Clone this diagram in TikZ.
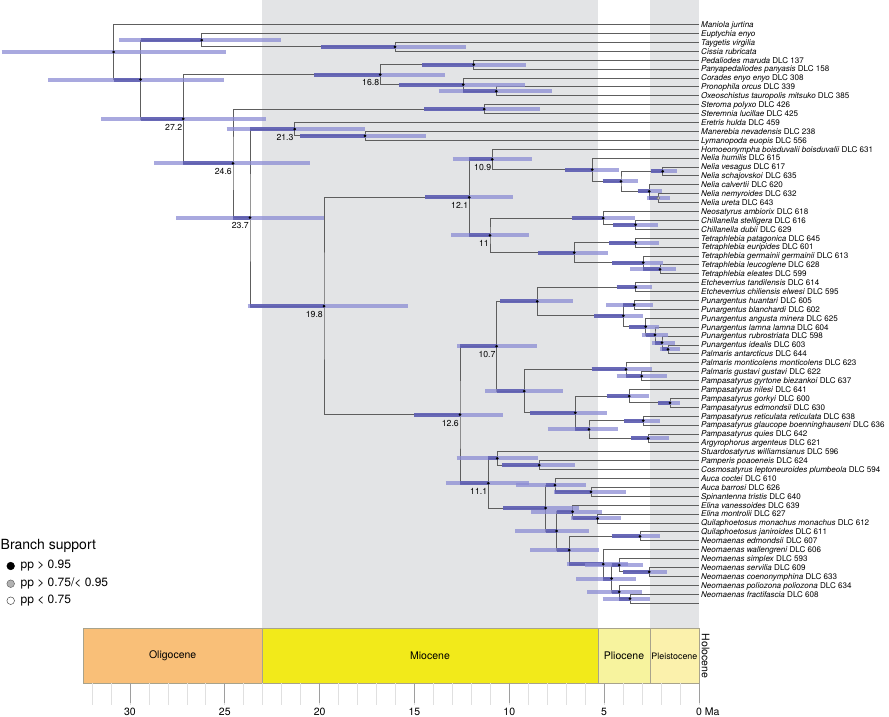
\documentclass[tikz,border=0pt]{standalone}
\usepackage{fontspec}
\setmainfont{TeX Gyre Heros}
\usetikzlibrary{calc}
\definecolor{band}{HTML}{E3E4E6}
\definecolor{oligo}{HTML}{F9BF78}
\definecolor{mio}{HTML}{F2EA1A}
\definecolor{plio}{HTML}{F7F39E}
\definecolor{pleis}{HTML}{FBF1AC}
\definecolor{holo}{HTML}{FDF4D8}
\definecolor{geoedge}{HTML}{A8A38C}
\definecolor{branchc}{HTML}{5E5E5E}
\definecolor{hpdD}{HTML}{5A5AAE}
\definecolor{hpdR}{HTML}{8C8CD4}
\tikzset{
  brline/.style={draw=branchc, line width=0.75pt},
  hpdlight/.style={draw=hpdR, line width=4pt, opacity=0.75},
  hpddark/.style={draw=hpdD, line width=4pt, opacity=0.8},
  agel/.style={inner sep=0pt, anchor=north east, font=\fontsize{8.7}{9}\selectfont},
  tiplab/.style={inner sep=0pt, anchor=base west, font=\fontsize{8.05}{9}\selectfont},
  geolab/.style={inner sep=0pt, font=\fontsize{10.5}{11}\selectfont},
  ticklab/.style={inner sep=0pt, anchor=base, font=\fontsize{10.5}{11}\selectfont},
  legtxt/.style={inner sep=0pt, anchor=west, font=\fontsize{12}{13}\selectfont},
}
\newcommand\trn[4]{\coordinate (#1m) at ($(#3)!0.5!(#4)$);\coordinate (#1) at (#2,0 |- #1m);\draw[brline] (#3) -| (#1) |- (#4);%
  \expandafter\gdef\csname px#3\endcsname{#2}\expandafter\gdef\csname px#4\endcsname{#2}}
\newcommand\hpdbar[3]{\draw[hpdlight] (#2,0 |- #1) -- (#3,0 |- #1);%
  \pgfmathsetmacro\dl{max(#2,\csname px#1\endcsname)}\draw[hpddark] (\dl,0 |- #1) -- (#1);}
\newcommand\tl[2]{\node[tiplab] (t#1) at ($(L#1)+(2,2.9)$) {#2};}
\newcommand\agl[2]{\node[agel] (a#1) at ($(#1)+(-1,5)$) {#2};}
\begin{document}
\begin{tikzpicture}[x=1pt,y=-1pt]
\useasboundingbox (0,0) rectangle (889,716);
% epoch bands
\fill[band] (262.1,0) rectangle (597.8,628.5);
\fill[band] (650,0) rectangle (698.8,628.5);
% geological scale
\draw[geoedge, fill=oligo] (83.3,628.5) rectangle (262.1,683.3);
\draw[geoedge, fill=mio] (262.1,628.5) rectangle (597.8,683.3);
\draw[geoedge, fill=plio] (597.8,628.5) rectangle (650,683.3);
\draw[geoedge, fill=pleis] (650,628.5) rectangle (698.8,683.3);
\draw[geoedge, fill=holo] (698.8,628.5) rectangle (699.3,683.3);
\node[geolab] (eo) at (172.7,655.9) {Oligocene};
\node[geolab] (em) at (430,655.9) {Miocene};
\node[geolab] (ep) at (624,655.9) {Pliocene};
\node[inner sep=0pt, font=\fontsize{8.9}{9}\selectfont] (es) at (674.4,655.9) {Pleistocene};
\node[geolab, rotate=-90] (eh) at (705.5,655.9) {Holocene};
\foreach \t in {0,...,32} \draw[black!12, line width=0.6pt] ({699-18.97*\t},683.3) -- ++(0,22);
\foreach \t in {0,5,...,30} \draw[black!38, line width=0.8pt] ({699-18.97*\t},683.3) -- ++(0,20);
\foreach \t in {5,10,...,30} \node[ticklab] at ({699-18.97*\t},715.5) {\t};
\node[ticklab, anchor=base west] (zma) at (696,715.5) {0 Ma};
% legend
\node[inner sep=0pt, anchor=west, font=\fontsize{14}{15}\selectfont] (lg) at (0.5,546) {Branch support};
\draw[black, fill=black, line width=0.5pt] (10.7,566) circle (3.8);
\draw[black!60, fill=black!30, line width=0.5pt] (10.7,583.7) circle (3.8);
\draw[black!70, fill=white, line width=0.5pt] (10.7,600.7) circle (3.8);
\node[legtxt] (l1) at (20.5,566) {pp > 0.95};
\node[legtxt] (l2) at (20.5,583.7) {pp > 0.75/< 0.95};
\node[legtxt] (l3) at (20.5,600.7) {pp < 0.75};
% leaves
\foreach \i in {1,...,66} {\coordinate (L\i) at (699,{24.5+(\i-1)*8.9});}
% tree
\trn{B2}{395}{L3}{L4}
\trn{B}{201.7}{L2}{B2}
\trn{D1}{473.7}{L5}{L6}
\trn{D3}{496.3}{L8}{L9}
\trn{D2}{463.3}{L7}{D3}
\trn{D}{380.3}{D1}{D2}
\trn{G}{484.3}{L10}{L11}
\trn{J}{365}{L13}{L14}
\trn{H}{294.7}{L12}{J}
\trn{Na}{662.7}{L17}{L18}
\trn{Nb}{658.3}{L20}{L21}
\trn{Nc}{649.3}{L19}{Nb}
\trn{Nd}{621}{Na}{Nc}
\trn{K}{592.3}{L16}{Nd}
\trn{N109}{492.3}{L15}{K}
\trn{Ch}{635.7}{L23}{L24}
\trn{Ne}{603.3}{L22}{Ch}
\trn{Ta}{635.7}{L25}{L26}
\trn{Tb}{660}{L28}{L29}
\trn{Tc}{643.3}{L27}{Tb}
\trn{Td}{574.3}{Ta}{Tc}
\trn{N11}{490}{Ne}{Td}
\trn{N121}{469.3}{N109}{N11}
\trn{Et}{635.7}{L30}{L31}
\trn{Pa}{634.3}{L32}{L33}
\trn{Pe}{668}{L37}{L38}
\trn{Pd}{662}{L36}{Pe}
\trn{Pc}{655}{L35}{Pd}
\trn{Pb}{645.7}{L34}{Pc}
\trn{Pun}{623.3}{Pa}{Pb}
\trn{P}{537.3}{Et}{Pun}
\trn{Ma}{641.7}{L40}{L41}
\trn{Mb}{626}{L39}{Ma}
\trn{Qa}{670}{L43}{L44}
\trn{Qb}{629.3}{L42}{Qa}
\trn{Qc}{643.3}{L45}{L46}
\trn{Qd}{648.3}{L47}{L48}
\trn{Qe}{589}{Qc}{Qd}
\trn{Qf}{575.3}{Qb}{Qe}
\trn{Mc}{524.3}{Mb}{Qf}
\trn{N107}{496.7}{P}{Mc}
\trn{Sa}{539.3}{L50}{L51}
\trn{Sb}{497.3}{L49}{Sa}
\trn{Ua}{591}{L53}{L54}
\trn{Ub}{555}{L52}{Ua}
\trn{Va}{597.7}{L56}{L57}
\trn{Vb}{572.7}{L55}{Va}
\trn{Wa}{640}{L58}{L59}
\trn{Wb}{649.3}{L62}{L63}
\trn{Wc}{619.3}{L61}{Wb}
\trn{Wd}{630}{L65}{L66}
\trn{We}{619.3}{L64}{Wd}
\trn{Wf}{611.7}{Wc}{We}
\trn{Wg}{603.3}{L60}{Wf}
\trn{Wh}{569.3}{Wa}{Wg}
\trn{Wi}{556.7}{Vb}{Wh}
\trn{Wj}{545.7}{Ub}{Wi}
\trn{N111}{488.3}{Sb}{Wj}
\trn{N126}{460}{N107}{N111}
\trn{I}{324}{N121}{N126}
\trn{F}{250}{H}{I}
\trn{E}{233}{G}{F}
\trn{C}{183.3}{D}{E}
\trn{A}{140.7}{B}{C}
\trn{R}{113.7}{L1}{A}
\expandafter\gdef\csname pxR\endcsname{113.7}
% HPD bars
\hpdbar{R}{1.7}{225.7}
\hpdbar{A}{48}{224}
\hpdbar{B}{119}{281}
\hpdbar{B2}{321}{465.7}
\hpdbar{C}{101}{265.7}
\hpdbar{D}{314}{445}
\hpdbar{D1}{422}{525.7}
\hpdbar{D2}{399}{525}
\hpdbar{D3}{438.7}{552}
\hpdbar{E}{154.3}{309.7}
\hpdbar{G}{424.3}{539.7}
\hpdbar{F}{176}{324.3}
\hpdbar{H}{226.7}{365}
\hpdbar{J}{300}{426.3}
\hpdbar{I}{247.7}{407.7}
\hpdbar{N121}{425}{513.3}
\hpdbar{N109}{452.7}{531.7}
\hpdbar{K}{565}{619}
\hpdbar{Nd}{602.7}{638.3}
\hpdbar{Na}{650.7}{676.7}
\hpdbar{Nc}{637.7}{662.3}
\hpdbar{Nb}{647.3}{670}
\hpdbar{N11}{451}{529}
\hpdbar{Ne}{571.7}{635}
\hpdbar{Ch}{613.3}{657.7}
\hpdbar{Td}{538.3}{607.7}
\hpdbar{Ta}{609.3}{659.3}
\hpdbar{Tc}{612.3}{663.3}
\hpdbar{Tb}{630}{676}
\hpdbar{N126}{414.3}{503.3}
\hpdbar{N107}{457.3}{536.7}
\hpdbar{P}{500}{572.7}
\hpdbar{Et}{616.7}{652.3}
\hpdbar{Pun}{594}{643.3}
\hpdbar{Pa}{606}{653.3}
\hpdbar{Pb}{629}{659}
\hpdbar{Pc}{641.7}{667.7}
\hpdbar{Pd}{651.7}{675}
\hpdbar{Pe}{660}{680}
\hpdbar{Mc}{485}{562.7}
\hpdbar{Mb}{591.7}{652.3}
\hpdbar{Ma}{616.7}{666.7}
\hpdbar{Qf}{530}{606.7}
\hpdbar{Qb}{606.7}{649.3}
\hpdbar{Qa}{658.3}{680}
\hpdbar{Qe}{547.7}{617.7}
\hpdbar{Qc}{624}{660}
\hpdbar{Qd}{631}{669}
\hpdbar{N111}{445.7}{529}
\hpdbar{Sb}{456.7}{537.7}
\hpdbar{Sa}{502.3}{575}
\hpdbar{Wj}{503.3}{578.7}
\hpdbar{Ub}{516}{586}
\hpdbar{Ua}{554}{625.7}
\hpdbar{Wi}{515}{589.3}
\hpdbar{Vb}{531}{601.7}
\hpdbar{Va}{570.7}{621}
\hpdbar{Wh}{530}{599.3}
\hpdbar{Wa}{611.7}{660}
\hpdbar{Wg}{566.7}{628.3}
\hpdbar{Wf}{576}{636}
\hpdbar{Wc}{585}{643.3}
\hpdbar{Wb}{622.7}{666.7}
\hpdbar{We}{587.3}{641.7}
\hpdbar{Wd}{602.7}{650}
% node dots
\foreach \n in {R,A,B,B2,C,D,D1,D2,D3,E,G,F,H,J,I,N121,N109,K,Nd,Na,Nc,N11,Ne,Ch,Td,Ta,Tc,Tb,N126,N107,P,Et,Pun,Pa,Pb,Pc,Pd,Pe,Mc,Mb,Ma,Qf,Qb,Qa,Qe,Qc,Qd,N111,Sb,Sa,Wj,Ub,Ua,Wi,Vb,Va,Wh,Wa,Wg,Wf,Wc,Wb,We,Wd}
  \fill[black] (\n) circle (1.5);
\draw[black!60, fill=black!25, line width=0.4pt] (Nb) circle (1.6);
% age labels
\agl{C}{27.2}
\agl{D}{16.8}
\agl{E}{24.6}
\agl{F}{23.7}
\agl{H}{21.3}
\agl{I}{19.8}
\agl{N121}{12.1}
\agl{N109}{10.9}
\agl{N11}{11}
\agl{N126}{12.6}
\agl{N107}{10.7}
\agl{N111}{11.1}
% tip labels
\tl{1}{\textit{Maniola jurtina}}
\tl{2}{\textit{Euptychia enyo}}
\tl{3}{\textit{Taygetis virgilia}}
\tl{4}{\textit{Cissia rubricata}}
\tl{5}{\textit{Pedaliodes maruda} DLC 137}
\tl{6}{\textit{Panyapedaliodes panyasis} DLC 158}
\tl{7}{\textit{Corades enyo enyo} DLC 308}
\tl{8}{\textit{Pronophila orcus} DLC 339}
\tl{9}{\textit{Oxeoschistus tauropolis mitsuko} DLC 385}
\tl{10}{\textit{Steroma polyxo} DLC 426}
\tl{11}{\textit{Steremnia lucillae} DLC 425}
\tl{12}{\textit{Eretris hulda} DLC 459}
\tl{13}{\textit{Manerebia nevadensis} DLC 238}
\tl{14}{\textit{Lymanopoda euopis} DLC 556}
\tl{15}{\textit{Homoeonympha boisduvalii boisduvalii} DLC 631}
\tl{16}{\textit{Nelia humilis} DLC 615}
\tl{17}{\textit{Nelia vesagus} DLC 617}
\tl{18}{\textit{Nelia schajovskoi} DLC 635}
\tl{19}{\textit{Nelia calvertii} DLC 620}
\tl{20}{\textit{Nelia nemyroides} DLC 632}
\tl{21}{\textit{Nelia ureta} DLC 643}
\tl{22}{\textit{Neosatyrus ambiorix} DLC 618}
\tl{23}{\textit{Chillanella stelligera} DLC 616}
\tl{24}{\textit{Chillanella dubii} DLC 629}
\tl{25}{\textit{Tetraphlebia patagonica} DLC 645}
\tl{26}{\textit{Tetraphlebia euripides} DLC 601}
\tl{27}{\textit{Tetraphlebia germainii germainii} DLC 613}
\tl{28}{\textit{Tetraphlebia leucoglene} DLC 628}
\tl{29}{\textit{Tetraphlebia eleates} DLC 599}
\tl{30}{\textit{Etcheverrius tandilensis} DLC 614}
\tl{31}{\textit{Etcheverrius chiliensis elwesi} DLC 595}
\tl{32}{\textit{Punargentus huantari} DLC 605}
\tl{33}{\textit{Punargentus blanchardi} DLC 602}
\tl{34}{\textit{Punargentus angusta minera} DLC 625}
\tl{35}{\textit{Punargentus lamna lamna} DLC 604}
\tl{36}{\textit{Punargentus rubrostriata} DLC 598}
\tl{37}{\textit{Punargentus idealis} DLC 603}
\tl{38}{\textit{Palmaris antarcticus} DLC 644}
\tl{39}{\textit{Palmaris monticolens monticolens} DLC 623}
\tl{40}{\textit{Palmaris gustavi gustavi} DLC 622}
\tl{41}{\textit{Pampasatyrus gyrtone biezankoi} DLC 637}
\tl{42}{\textit{Pampasatyrus nilesi} DLC 641}
\tl{43}{\textit{Pampasatyrus gorkyi} DLC 600}
\tl{44}{\textit{Pampasatyrus edmondsii} DLC 630}
\tl{45}{\textit{Pampasatyrus reticulata reticulata} DLC 638}
\tl{46}{\textit{Pampasatyrus glaucope boenninghauseni} DLC 636}
\tl{47}{\textit{Pampasatyrus quies} DLC 642}
\tl{48}{\textit{Argyrophorus argenteus} DLC 621}
\tl{49}{\textit{Stuardosatyrus williamsianus} DLC 596}
\tl{50}{\textit{Pamperis poaoeneis} DLC 624}
\tl{51}{\textit{Cosmosatyrus leptoneuroides plumbeola} DLC 594}
\tl{52}{\textit{Auca coctei} DLC 610}
\tl{53}{\textit{Auca barrosi} DLC 626}
\tl{54}{\textit{Spinantenna tristis} DLC 640}
\tl{55}{\textit{Elina vanessoides} DLC 639}
\tl{56}{\textit{Elina montrolii} DLC 627}
\tl{57}{\textit{Quilaphoetosus monachus monachus} DLC 612}
\tl{58}{\textit{Quilaphoetosus janiroides} DLC 611}
\tl{59}{\textit{Neomaenas edmondsii} DLC 607}
\tl{60}{\textit{Neomaenas wallengreni} DLC 606}
\tl{61}{\textit{Neomaenas simplex} DLC 593}
\tl{62}{\textit{Neomaenas servilia} DLC 609}
\tl{63}{\textit{Neomaenas coenonymphina} DLC 633}
\tl{64}{\textit{Neomaenas poliozona poliozona} DLC 634}
\tl{65}{\textit{Neomaenas fractifascia} DLC 608}
\end{tikzpicture}
\end{document}
